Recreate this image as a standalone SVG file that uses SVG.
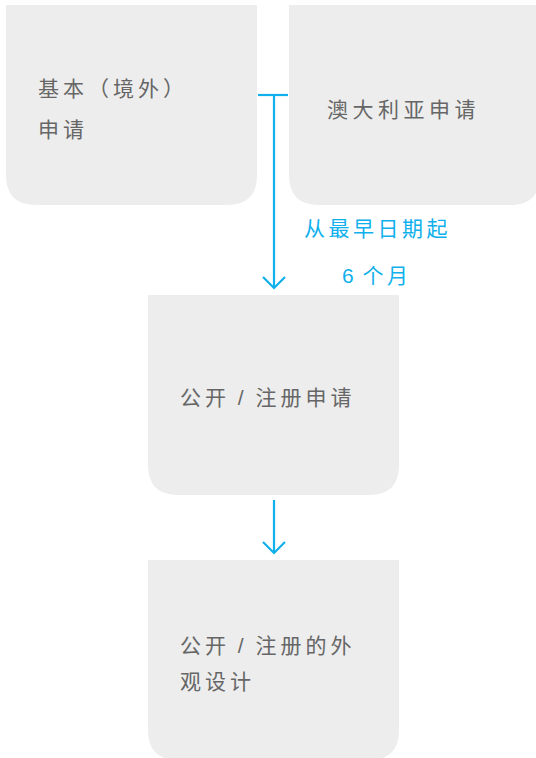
<svg xmlns="http://www.w3.org/2000/svg" width="536" height="758" viewBox="0 0 536 758">
<defs>
<style>
.box{fill:#ededed;}
.t{font-family:"Liberation Sans","Noto Sans CJK SC",sans-serif;font-size:21px;fill:#666666;letter-spacing:4px;}
.lbl{font-family:"Liberation Sans","Noto Sans CJK SC",sans-serif;font-size:21px;fill:#0fb0ec;letter-spacing:3.5px;}
.c{stroke:#0fb0ec;stroke-width:2.2;fill:none;}
</style>
</defs>
<g id="node-basic">
<path class="box" d="M6 5 H257 V175 Q257 205 227 205 H36 Q6 205 6 175 Z"/>
<text class="t" x="38" y="96">基本（境外）</text>
<text class="t" x="38" y="137">申请</text>
</g>
<g id="node-australia">
<path class="box" d="M289 5 H540 V175 Q540 205 510 205 H319 Q289 205 289 175 Z"/>
<text class="t" x="327" y="117" style="letter-spacing:4.5px">澳大利亚申请</text>
</g>
<g id="node-publish">
<path class="box" d="M148 295 H399 V465 Q399 495 369 495 H178 Q148 495 148 465 Z"/>
<text class="t" x="180" y="405" word-spacing="-2">公开 / 注册申请</text>
</g>
<g id="node-design">
<path class="box" d="M148 560 H399 V730 Q399 760 369 760 H178 Q148 760 148 730 Z"/>
<text class="t" x="180" y="653" word-spacing="-2">公开 / 注册的外</text>
<text class="t" x="180" y="689">观设计</text>
</g>
<g id="connectors">
<line class="c" x1="258" y1="95" x2="288" y2="95"/>
<line class="c" x1="274" y1="95" x2="274" y2="288"/>
<polyline class="c" points="263,277 274,288 285,277"/>
<line class="c" x1="274" y1="500" x2="274" y2="553"/>
<polyline class="c" points="263,542 274,553 285,542"/>
<text class="lbl" x="304" y="236">从最早日期起</text>
<text class="lbl" x="342" y="283" word-spacing="-4">6 个月</text>
</g>
</svg>
